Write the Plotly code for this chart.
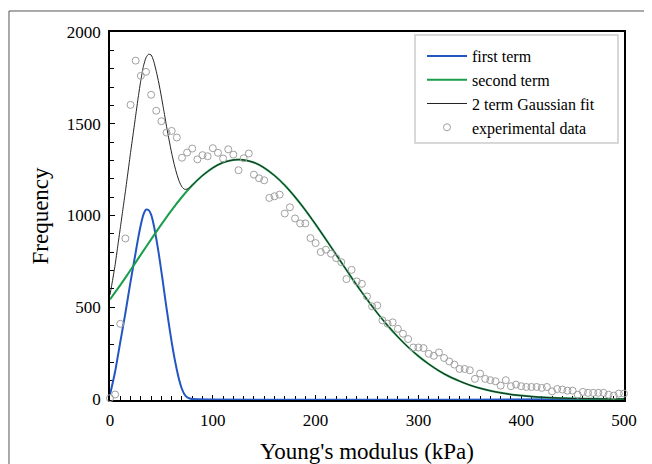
import plotly.graph_objects as go

# ---- data ----
blue_x = [0, 2.5, 5, 7.5, 10, 12.5, 15, 17.5, 20, 22.5, 25, 27.5, 30, 32.5, 35, 37.5,
          40, 42.5, 45, 47.5, 50, 52.5, 55, 57.5, 60, 62.5, 65, 67.5, 70, 72.5, 75, 77.5, 80, 500]
blue_y = [25, 85, 150, 230, 310, 390, 470, 555, 640, 720, 800, 880, 950, 1005, 1032, 1030,
          1005, 950, 875, 790, 695, 595, 495, 400, 310, 230, 160, 100, 55, 25, 10, 3, 0, 0]

green_x = list(range(0, 501, 10))
green_y = [543, 621, 703, 787, 870, 952, 1030, 1101, 1165, 1218, 1260, 1289, 1303, 1303, 1289,
           1260, 1218, 1165, 1101, 1030, 952, 870, 787, 703, 621, 543, 469, 401, 339, 283,
           234, 191, 154, 123, 98, 76, 59, 45, 34, 25, 19, 14, 10, 7, 5, 3.5, 2.4, 1.6, 1.1, 0.7, 0.5]

fit_x = [0, 2.5, 5, 7.5, 10, 12.5, 15, 17.5, 20, 22.5, 25, 27.5, 30, 32.5, 35, 37.5,
         40, 42.5, 45, 47.5, 50, 52.5, 55, 57.5, 60, 62.5, 65, 67.5, 70, 72.5, 75, 77.5, 80,
         90, 100, 110, 120, 130, 140, 150, 160, 170, 180, 190, 200, 210, 220, 230, 240, 250,
         260, 270, 280, 290, 300, 310, 320, 330, 340, 350, 360, 370, 380, 390, 400, 410, 420,
         430, 440, 450, 460, 470, 480, 490, 500]
fit_y = [568, 647, 732, 831, 931, 1032, 1132, 1237, 1343, 1444, 1545, 1646, 1737, 1813, 1860, 1879,
         1875, 1841, 1786, 1722, 1647, 1567, 1486, 1411, 1340, 1278, 1226, 1184, 1156, 1143, 1144, 1153, 1165,
         1218, 1260, 1289, 1303, 1303, 1289, 1260, 1218, 1165, 1101, 1030, 952, 870, 787, 703, 621, 543,
         469, 401, 339, 283, 234, 191, 154, 123, 98, 76, 59, 45, 34, 25, 19, 14, 10,
         7, 5, 3.5, 2.4, 1.6, 1.1, 0.7, 0.5]

exp_x = list(range(0, 501, 5))
exp_y = [5, 25, 410, 875, 1603, 1844, 1761, 1783, 1658, 1571, 1514, 1452, 1461, 1425, 1315, 1343,
         1365, 1306, 1329, 1323, 1367, 1342, 1311, 1361, 1332, 1247, 1312, 1338, 1223, 1203, 1192,
         1096, 1105, 1114, 1011, 1045, 984, 957, 957, 877, 850, 801, 814, 792, 768, 746, 654, 704,
         641, 628, 559, 505, 510, 429, 411, 418, 383, 356, 327, 281, 281, 278, 247, 236, 254, 224,
         205, 188, 164, 164, 157, 110, 139, 110, 103, 97, 73, 103, 70, 79, 70, 66, 66, 66, 61, 66,
         42, 55, 52, 46, 46, 24, 39, 34, 34, 34, 34, 24, 19, 30, 30]

x_ticks = [0, 100, 200, 300, 400, 500]
y_ticks = [0, 500, 1000, 1500, 2000]

FONT = "Liberation Serif"

fig = go.Figure()
fig.add_trace(go.Scatter(x=blue_x, y=blue_y, mode="lines", name="first term",
                         line=dict(color="#2456c2", width=2, shape="spline", smoothing=0.6)))
fig.add_trace(go.Scatter(x=green_x, y=green_y, mode="lines", name="second term",
                         line=dict(color="#1a9e4c", width=2, shape="spline", smoothing=0.6)))
fig.add_trace(go.Scatter(x=fit_x, y=fit_y, mode="lines", name="2 term Gaussian fit",
                         line=dict(color="#222222", width=1, shape="spline", smoothing=0.6)))
fig.add_trace(go.Scatter(x=exp_x, y=exp_y, mode="markers", name="experimental data",
                         cliponaxis=False,
                         marker=dict(symbol="circle-open", size=7, color="#a0a0a0",
                                     line=dict(width=1, color="#a0a0a0"))))

# The page body has an 8px margin, so the figure is 8px smaller than the window.
fig.update_layout(
    width=644, height=456,
    margin=dict(l=102, r=28, t=24, b=64),
    paper_bgcolor="white", plot_bgcolor="white",
    font=dict(family=FONT, color="black", size=16),
    showlegend=True,
    legend=dict(x=0.607, y=0.981, xanchor="left", yanchor="top",
                bgcolor="rgba(0,0,0,0)", borderwidth=0,
                font=dict(family=FONT, size=16, color="black"),
                itemwidth=40, tracegroupgap=0),
)

fig.update_xaxes(range=[0, 500], tickvals=x_ticks, ticks="inside", ticklen=5, tickcolor="black",
                 showline=True, linecolor="black", linewidth=1.5, mirror=True,
                 showgrid=False, zeroline=False, layer="below traces",
                 minor=dict(dtick=10, tick0=0, ticks="inside", ticklen=4, tickcolor="black", showgrid=False),
                 tickfont=dict(family=FONT, size=17), ticklabelstandoff=4,
                 title=dict(text="Young's modulus (kPa)", font=dict(family=FONT, size=23), standoff=16),
                 automargin=False)
fig.update_yaxes(range=[-5, 2000], tickvals=y_ticks, ticks="inside", ticklen=5, tickcolor="black",
                 showline=True, linecolor="black", linewidth=1.5, mirror=True,
                 showgrid=False, zeroline=False, layer="below traces",
                 minor=dict(dtick=100, tick0=0, ticks="inside", ticklen=4, tickcolor="black", showgrid=False),
                 tickfont=dict(family=FONT, size=17), ticklabelstandoff=4,
                 title=dict(text="Frequency", font=dict(family=FONT, size=23), standoff=12),
                 automargin=False)

# legend frame
fig.add_shape(type="rect", xref="paper", yref="paper", x0=0.5934, y0=0.6984, x1=0.9883, y1=0.9918,
              line=dict(color="#cccccc", width=1.5), fillcolor="white", layer="above")
# outer page frame (top and left edges)
fig.add_shape(type="line", xref="paper", yref="paper", x0=-0.1965, y0=1.0571, x1=1.06, y1=1.0571,
              line=dict(color="#555555", width=1))
fig.add_shape(type="line", xref="paper", yref="paper", x0=-0.1965, y0=1.0571, x1=-0.1965, y1=-0.2,
              line=dict(color="#555555", width=1))

fig.write_html("out.html")
